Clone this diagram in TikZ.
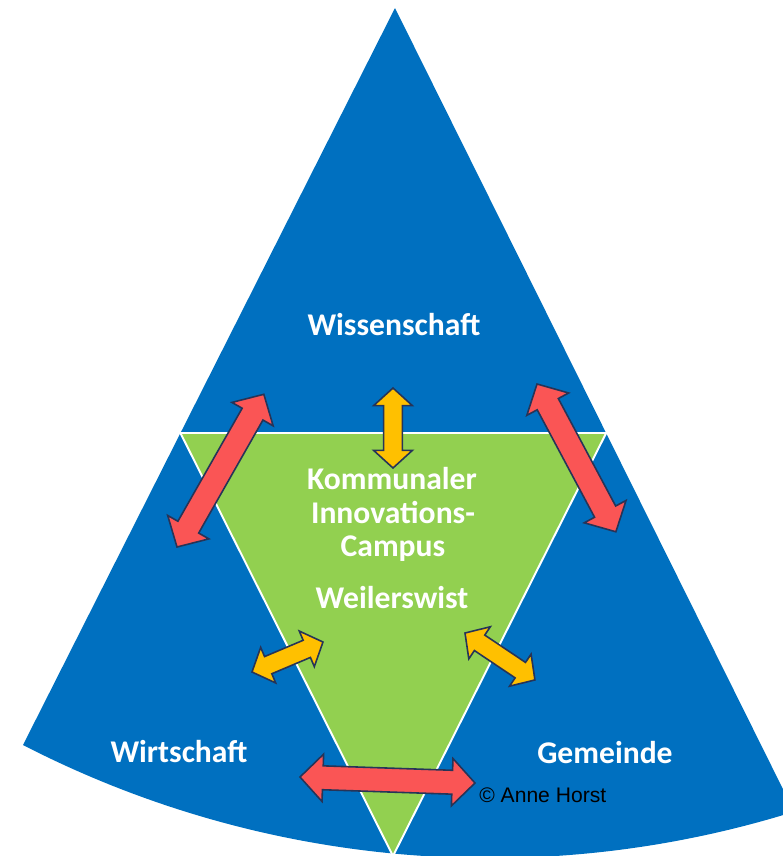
\documentclass[tikz,border=0pt]{standalone}
\usepackage{fontspec}
\setmainfont{Carlito}
\newfontfamily\creditfont{Liberation Sans}
\usetikzlibrary{calc}

\definecolor{sectorblue}{RGB}{0,112,192}
\definecolor{campusgreen}{RGB}{146,208,80}
\definecolor{linkred}{RGB}{250,85,85}
\definecolor{linkorange}{RGB}{255,192,0}
\definecolor{linkedge}{RGB}{38,52,88}

\tikzset{
  partname/.style={text=white, inner sep=0pt, font=\fontsize{18}{20}\selectfont\bfseries},
  credit/.style={text=black, inner sep=0pt, font=\fontsize{12}{14}\creditfont},
  divider/.style={white, line width=1.1pt},
  redlink/.style={fill=linkred, draw=linkedge, line width=0.9pt,
    /utils/exec={\def\headlen{13pt}\def\headhalf{13.5pt}\def\shafthalf{6.8pt}}},
  orangelink/.style={fill=linkorange, draw=linkedge, line width=0.9pt,
    /utils/exec={\def\headlen{10pt}\def\headhalf{11pt}\def\shafthalf{5.3pt}}}
}

% fat double arrow between two named coordinates
\newcommand{\twoway}[3]{%
  \filldraw[#1] let \p1=($(#3)-(#2)$), \n1={atan2(\y1,\x1)}, \n2={veclen(\x1,\y1)} in
    [shift={(#2)}, rotate=\n1]
    (0pt,0pt) -- (\headlen,\headhalf) -- (\headlen,\shafthalf) -- (\n2-\headlen,\shafthalf)
    -- (\n2-\headlen,\headhalf) -- (\n2,0pt) -- (\n2-\headlen,-\headhalf)
    -- (\n2-\headlen,-\shafthalf) -- (\headlen,-\shafthalf) -- (\headlen,-\headhalf) -- cycle;}

\begin{document}
\begin{tikzpicture}[x=0.02cm, y=-0.02cm]
\useasboundingbox (0,0) rectangle (783,856);
\clip (0,0) rectangle (783,856);

% sector and campus triangle
\coordinate (apex) at (395,8);
\coordinate (corner) at (23,745);
\coordinate (tl) at (180.4,433);
\coordinate (tr) at (606.2,433);
\coordinate (tb) at (393,856);
\fill[sectorblue] (apex) -- (corner) arc[start angle=117.24, end angle=72.64, radius=1020] -- cycle;
\fill[campusgreen] (tl) -- (tr) -- (tb) -- cycle;
\draw[divider] (tl) -- (tr) -- (tb) -- cycle;

% labels
\node[partname, anchor=base] (wiss) at (394,335) {Wissenschaft};
\node[partname, anchor=base] (wirt) at (179,762) {Wirtschaft};
\node[partname, anchor=base] (gem) at (605,763) {Gemeinde};
\node[partname, anchor=base] (kom) at (392,489) {Kommunaler};
\node[partname, anchor=base] (inno) at (393,523) {Innovations-};
\node[partname, anchor=base] (camp) at (393,556) {Campus};
\node[partname, anchor=base] (weil) at (392,608) {Weilerswist};
\node[credit, anchor=base west] (copy) at (479,802) {© Anne Horst};

% arrow ends
\coordinate (wissleft) at (264,394);
\coordinate (wirtup) at (177,547);
\coordinate (wissright) at (537,384);
\coordinate (gemup) at (616,532);
\coordinate (wirtright) at (300,777);
\coordinate (gemleft) at (475,783);
\coordinate (wissdown) at (393,388);
\coordinate (campup) at (393,468);
\coordinate (wirtin) at (252,672);
\coordinate (campleft) at (323,642);
\coordinate (campright) at (465,633);
\coordinate (gemin) at (535,680);

\twoway{redlink}{wirtup}{wissleft}
\twoway{redlink}{wissright}{gemup}
\twoway{redlink}{wirtright}{gemleft}
\twoway{orangelink}{wissdown}{campup}
\twoway{orangelink}{wirtin}{campleft}
\twoway{orangelink}{campright}{gemin}
\end{tikzpicture}
\end{document}
